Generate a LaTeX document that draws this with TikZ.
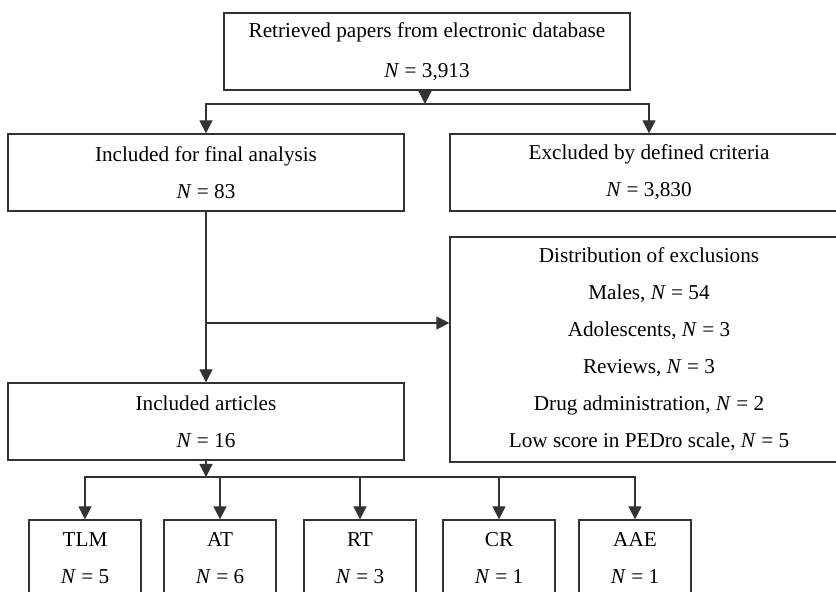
\documentclass[tikz,border=0pt]{standalone}
\usepackage{fontspec}
\setmainfont{Liberation Serif}
\usetikzlibrary{arrows.meta}

\begin{document}
\begin{tikzpicture}[x=0.5pt,y=-0.5pt,
	box/.style={draw=black!80, line width=0.6pt, align=center, inner sep=0pt,
		minimum height=38.5pt, font=\fontsize{10.6}{18.5}\selectfont},
	arr/.style={draw=black!80, line width=0.6pt, -{Triangle[length=6.5pt,width=6.5pt]}}]
			\useasboundingbox (0,0) rectangle (836,592);
			\clip (0,0) rectangle (836,592);
			\node[box, minimum width=203pt, font=\fontsize{10.6}{20}\selectfont] (retr) at (427,51.5) {Retrieved papers from electronic database\\\textit{N} = 3,913};
			\node[box, minimum width=198pt] (incl) at (206,172.5) {Included for final analysis\\\textit{N} = 83};
			\node[box, minimum width=199pt] (excl) at (649,172.5) {Excluded by defined criteria\\\textit{N} = 3,830};
			\node[box, minimum width=199pt, minimum height=112.5pt] (dist) at (649,349.5) {Distribution of exclusions\\Males, \textit{N} = 54\\Adolescents, \textit{N} = 3\\Reviews, \textit{N} = 3\\Drug administration, \textit{N} = 2\\Low score in PEDro scale, \textit{N} = 5};
			\node[box, minimum width=198pt] (arts) at (206,421.5) {Included articles\\\textit{N} = 16};
			\node[box, minimum width=56pt] (tlm) at (85,558.5) {TLM\\\textit{N} = 5};
			\node[box, minimum width=56pt] (at) at (220,558.5) {AT\\\textit{N} = 6};
			\node[box, minimum width=56pt] (rt) at (360,558.5) {RT\\\textit{N} = 3};
			\node[box, minimum width=56pt] (cr) at (499,558.5) {CR\\\textit{N} = 1\vphantom{6}};
			\node[box, minimum width=56pt] (aae) at (635,558.5) {AAE\\\textit{N} = 1};
			\coordinate (split1) at (425,104);
			\coordinate (branch) at (206,323);
			\coordinate (split2) at (206,477);
			\draw[arr] (retr.south -| split1) -- (split1);
			\draw[arr] (split1) -| (incl.north);
			\draw[arr] (split1) -| (excl.north);
			\draw[arr] (incl.south) -- (arts.north);
			\draw[arr] (branch) -- (branch -| dist.west);
			\draw[arr] (arts.south) -- (split2);
			\foreach \b in {tlm,at,rt,cr,aae}
				\draw[arr] (split2) -| (\b.north);
\end{tikzpicture}
\end{document}
